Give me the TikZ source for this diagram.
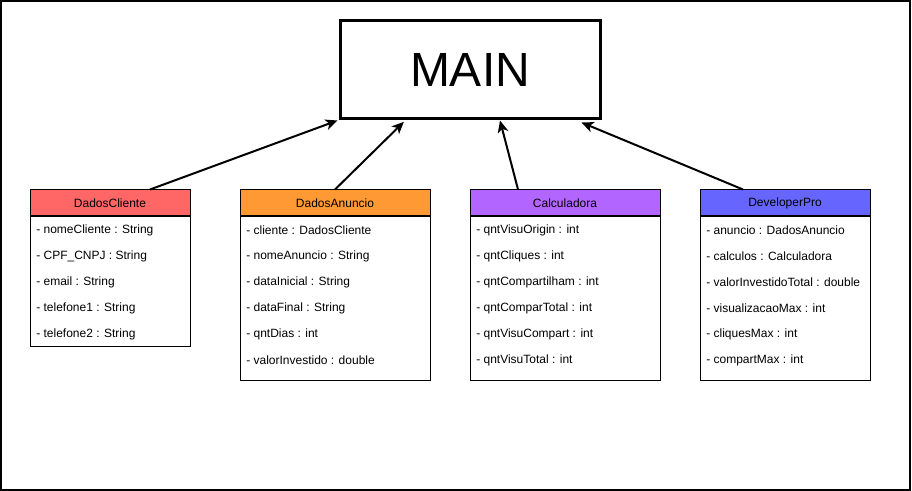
\documentclass[tikz,border=0pt]{standalone}
\usepackage{fontspec}
\setmainfont{Liberation Sans}
\usetikzlibrary{arrows.meta}
\definecolor{cliRed}{HTML}{FF6666}
\definecolor{anuOrange}{HTML}{FF9933}
\definecolor{calcPurple}{HTML}{B266FF}
\definecolor{devBlue}{HTML}{6666FF}
\begin{document}
\begin{tikzpicture}[x=0.75pt,y=-0.75pt,
  mainbox/.style={draw, line width=2.25pt, minimum width=195pt, minimum height=73.5pt,
    inner sep=0pt, font=\fontsize{36}{40}\selectfont},
  hdr/.style={draw, line width=0.75pt, minimum height=19.5pt, inner sep=0pt,
    font=\fontsize{9}{11}\selectfont},
  body/.style={draw, line width=0.75pt, anchor=north, inner sep=0pt},
  row/.style={anchor=west, inner xsep=4.5pt, inner ysep=0pt, font=\fontsize{9}{11}\selectfont},
  conn/.style={line width=1.5pt, -{Stealth[length=9pt,width=8pt,inset=2.5pt]}}]
\useasboundingbox (0,0) rectangle (912,491);
\draw[line width=1.5pt] (1,1) rectangle (910,489.5);

% main module
\node[mainbox] (main) at (470,70) {MAIN};

% DadosCliente
\node[body, minimum width=120pt, minimum height=97.5pt] (bc) at (110,216) {};
\node[hdr, fill=cliRed, minimum width=120pt] (hc) at (110,203) {DadosCliente};
\node[row] (c1) at (30,230) {- nomeCliente : String};
\node[row] (c2) at (30,256) {- CPF\_CNPJ : String};
\node[row] (c3) at (30,282) {- email : String};
\node[row] (c4) at (30,308) {- telefone1 : String};
\node[row] (c5) at (30,334) {- telefone2 : String};

% DadosAnuncio
\node[body, minimum width=142.5pt, minimum height=123pt] (ba) at (335,216) {};
\node[hdr, fill=anuOrange, minimum width=142.5pt] (ha) at (335,203) {DadosAnuncio};
\node[row] (a1) at (240,230) {- cliente : DadosCliente};
\node[row] (a2) at (240,256) {- nomeAnuncio : String};
\node[row] (a3) at (240,282) {- dataInicial : String};
\node[row] (a4) at (240,308) {- dataFinal : String};
\node[row] (a5) at (240,334) {- qntDias : int};
\node[row] (a6) at (240,360) {- valorInvestido : double};

% Calculadora
\node[body, minimum width=142.5pt, minimum height=123pt] (bk) at (565,216) {};
\node[hdr, fill=calcPurple, minimum width=142.5pt] (hk) at (565,203) {Calculadora};
\node[row] (k1) at (470,230) {- qntVisuOrigin : int};
\node[row] (k2) at (470,256) {- qntCliques : int};
\node[row] (k3) at (470,282) {- qntCompartilham : int};
\node[row] (k4) at (470,308) {- qntComparTotal : int};
\node[row] (k5) at (470,334) {- qntVisuCompart : int};
\node[row] (k6) at (470,360) {- qntVisuTotal : int};

% DeveloperPro
\node[body, minimum width=127.5pt, minimum height=123pt] (bd) at (785,216) {};
\node[hdr, fill=devBlue, minimum width=127.5pt] (hd) at (785,203) {DeveloperPro};
\node[row] (d1) at (700,230) {- anuncio : DadosAnuncio};
\node[row] (d2) at (700,256) {- calculos : Calculadora};
\node[row] (d3) at (700,282) {- valorInvestidoTotal : double};
\node[row] (d4) at (700,308) {- visualizacaoMax : int};
\node[row] (d5) at (700,334) {- cliquesMax : int};
\node[row] (d6) at (700,360) {- compartMax : int};

% dependencies on main
\draw[conn] ([xshift=30pt]hc.north) -- ([xshift=-0.75pt]main.south west);
\draw[conn] (ha.north) -- ([xshift=49pt,yshift=-1pt]main.south west);
\draw[conn] ([xshift=-35.25pt]hk.north) -- ([xshift=22.5pt]main.south);
\draw[conn] ([xshift=-31.5pt]hd.north) -- ([xshift=-15pt,yshift=-1.5pt]main.south east);
\end{tikzpicture}
\end{document}
